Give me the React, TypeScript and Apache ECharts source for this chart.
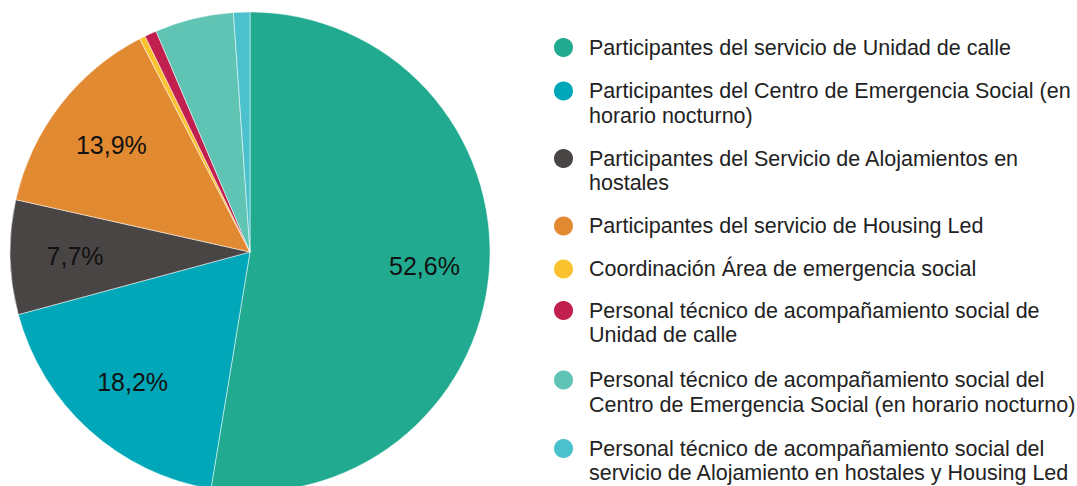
import React, { useEffect, useRef } from "react";
import * as echarts from "echarts";

const categories: string[] = [
  "Participantes del servicio de Unidad de calle",
  "Participantes del Centro de Emergencia Social (en\nhorario nocturno)",
  "Participantes del Servicio de Alojamientos en\nhostales",
  "Participantes del servicio de Housing Led",
  "Coordinación Área de emergencia social",
  "Personal técnico de acompañamiento social de\nUnidad de calle",
  "Personal técnico de acompañamiento social del\nCentro de Emergencia Social (en horario nocturno)",
  "Personal técnico de acompañamiento social del\nservicio de Alojamiento en hostales y Housing Led",
];

const values: number[] = [52.6, 18.2, 7.7, 13.9, 0.4, 0.8, 5.3, 1.1];

const colors: string[] = [
  "#21AA90",
  "#00A7B8",
  "#4A4545",
  "#E28A32",
  "#F9C22E",
  "#C1204F",
  "#5FC4B3",
  "#4BC1CD",
];

const FONT = "'Liberation Sans', Arial, sans-serif";
const LINE_H = 24.5;
// vertical centre of the first text line of each legend entry (layout)
const legendFirstLineY: number[] = [47.5, 91, 158.5, 226, 269, 310.5, 380, 448.5];

export default function App() {
  const ref = useRef<HTMLDivElement>(null);

  useEffect(() => {
    if (!ref.current) return;
    const chart = echarts.init(ref.current, undefined, { renderer: "svg" });

    const data = categories.map((name, i) => ({
      name,
      value: values[i],
      itemStyle: { color: colors[i] },
    }));

    const legends = categories.map((name, i) => {
      const lines = name.split("\n").length;
      const top = legendFirstLineY[i] - (LINE_H * (2 * lines - 1)) / 2;
      return {
        show: true,
        orient: "vertical",
        left: 552,
        top,
        padding: 0,
        itemWidth: 41,
        itemHeight: 21,
        icon: "circle",
        selectedMode: false,
        data: [name],
        // leading blank lines keep the first text line level with the icon
        formatter: (n: string) => "\n".repeat(lines - 1) + n,
        textStyle: {
          fontFamily: FONT,
          fontSize: 21.5,
          color: "#222222",
          lineHeight: LINE_H,
        },
      };
    });

    chart.setOption({
      animation: false,
      legend: legends,
      series: [
        {
          type: "pie",
          center: [250, 252],
          radius: [0, 240],
          startAngle: 90,
          clockwise: true,
          data,
          label: { show: false },
          labelLine: { show: false },
          itemStyle: { borderColor: "#ffffff", borderWidth: 0.5 },
          emphasis: { disabled: true },
          silent: true,
        },
        {
          type: "pie",
          center: [250, 252],
          radius: [104, 240],
          startAngle: 90,
          clockwise: true,
          data: categories.map((name, i) => ({ name, value: values[i] })),
          itemStyle: { color: "transparent", borderWidth: 0 },
          label: {
            show: true,
            position: "inside",
            fontFamily: FONT,
            fontSize: 25,
            color: "#111111",
            formatter: (p: any) =>
              p.value >= 7 ? `${p.value.toFixed(1).replace(".", ",")}%` : "",
          },
          labelLine: { show: false },
          emphasis: { disabled: true },
          silent: true,
          legendHoverLink: false,
        },
      ],
    });

    return () => chart.dispose();
  }, []);

  return (
    <div
      ref={ref}
      style={{ position: "fixed", left: 0, top: 0, width: 1077, height: 486, background: "#fff" }}
    />
  );
}
